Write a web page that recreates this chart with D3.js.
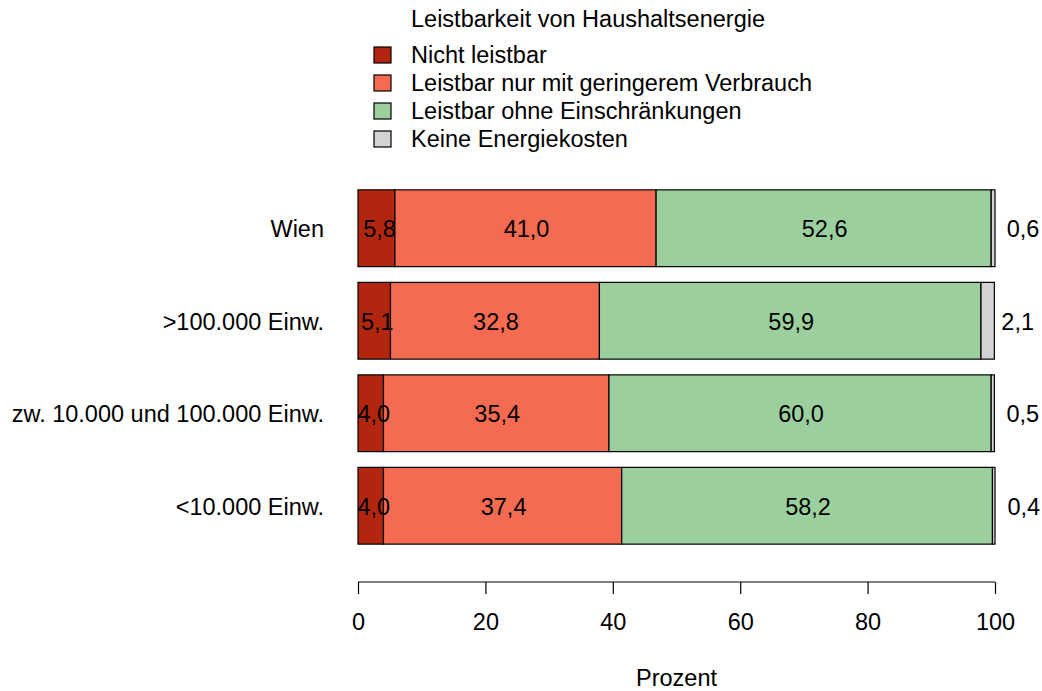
<!DOCTYPE html>
<html>
<head>
<meta charset="utf-8">
<script src="https://cdn.jsdelivr.net/npm/d3@7"></script>
<style>
  body { margin: 0; background: #fff; }
  text { font-family: "Liberation Sans", Arial, sans-serif; fill: #000; }
</style>
</head>
<body>
<script>
var categories = ['Wien', '>100.000 Einw.', 'zw. 10.000 und 100.000 Einw.', '<10.000 Einw.']
var seriesNames = ['Nicht leistbar', 'Leistbar nur mit geringerem Verbrauch', 'Leistbar ohne Einschränkungen', 'Keine Energiekosten']
var nichtLeistbar = [5.8, 5.1, 4.0, 4.0]
var geringer = [41.0, 32.8, 35.4, 37.4]
var ohneEinschr = [52.6, 59.9, 60.0, 58.2]
var keineKosten = [0.6, 2.1, 0.5, 0.4]
var xTicks = [0, 20, 40, 60, 80, 100]
var colors = ['#B2260F', '#F46B52', '#9BD09E', '#D3D3D3']

var w = 1042
var h = 691
var fs = '23.5px'

var svg = d3.select('body')
  .append('svg')
  .attr('width', w)
  .attr('height', h)

var x = d3.scaleLinear().domain([0, 100]).range([358, 995])
var y = d3.scaleBand().domain(categories).range([182, 552]).paddingInner(0.17).paddingOuter(0.085)

// build rows of stacked segments
var seriesVals = [nichtLeistbar, geringer, ohneEinschr, keineKosten]
var rows = categories.map(function(c, i){
  var start = 0
  return seriesVals.map(function(s, k){
    var seg = { cat: c, k: k, v: s[i], x0: start, x1: start + s[i] }
    start += s[i]
    return seg
  })
})
var segs = [].concat.apply([], rows)

svg.selectAll('rect.bar')
  .data(segs)
  .enter()
  .append('rect')
  .attr('class', 'bar')
  .attr('x', function(d){ return x(d.x0) })
  .attr('y', function(d){ return y(d.cat) })
  .attr('width', function(d){ return x(d.x1) - x(d.x0) })
  .attr('height', y.bandwidth())
  .attr('fill', function(d){ return colors[d.k] })
  .attr('stroke', '#000')
  .attr('stroke-width', 1.2)

svg.selectAll('text.val')
  .data(segs)
  .enter()
  .append('text')
  .attr('class', 'val')
  .text(function(d){ return d.v.toFixed(1).replace('.', ',') })
  .attr('x', function(d){ // last series goes to the right of the bar
    var mid = x((d.x0 + d.x1) / 2)
    return d.k === 3 ? mid + 30 : (d.k === 0 ? mid + 3 : mid + 1)
  })
  .attr('y', function(d){ return y(d.cat) + y.bandwidth() / 2 })
  .attr('dy', '0.38em')
  .attr('text-anchor', 'middle')
  .attr('font-size', fs)

// category labels
svg.selectAll('text.cat')
  .data(categories)
  .enter()
  .append('text')
  .attr('class', 'cat')
  .text(function(d){ return d })
  .attr('x', 324)
  .attr('y', function(d){ return y(d) + y.bandwidth() / 2 })
  .attr('dy', '0.38em')
  .attr('text-anchor', 'end')
  .attr('font-size', fs)

// x axis
var axis = svg.append('g')
  .attr('transform', 'translate(0,582)')
  .call(d3.axisBottom(x).tickValues(xTicks).tickSize(12).tickFormat(d3.format('d')))
axis.select('.domain').attr('d', 'M' + x(0) + ',0H' + x(100)).attr('stroke-width', 1.2)
axis.selectAll('line').attr('stroke-width', 1.2)
axis.selectAll('text')
  .attr('y', 40)
  .attr('dy', '0.35em')
  .attr('font-size', fs)
  .attr('font-family', '"Liberation Sans", Arial, sans-serif')

svg.append('text')
  .text('Prozent')
  .attr('x', x(50))
  .attr('y', 678)
  .attr('dy', '0.35em')
  .attr('text-anchor', 'middle')
  .attr('font-size', fs)

// legend
svg.append('text')
  .text('Leistbarkeit von Haushaltsenergie')
  .attr('x', 411)
  .attr('y', 19)
  .attr('dy', '0.35em')
  .attr('font-size', fs)

var leg = svg.selectAll('g.leg')
  .data(seriesNames)
  .enter()
  .append('g')
  .attr('class', 'leg')
  .attr('transform', function(d, i){ return 'translate(0,' + (55 + i * 28) + ')' })

leg.append('rect')
  .attr('x', 374)
  .attr('y', -8)
  .attr('width', 17)
  .attr('height', 16)
  .attr('fill', function(d, i){ return colors[i] })
  .attr('stroke', '#000')
  .attr('stroke-width', 1.2)

leg.append('text')
  .text(function(d){ return d })
  .attr('x', 411)
  .attr('y', 0)
  .attr('dy', '0.35em')
  .attr('font-size', fs)
</script>
</body>
</html>
